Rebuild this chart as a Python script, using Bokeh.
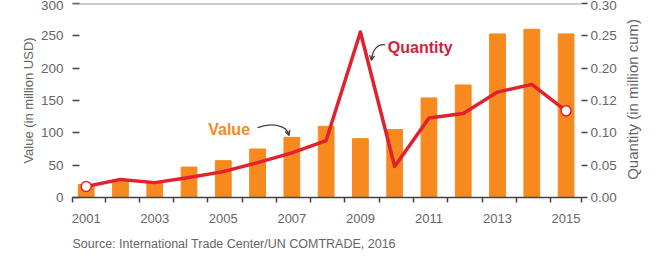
import math
from bokeh.plotting import figure
from bokeh.layouts import row
from bokeh.models import (FixedTicker, LinearAxis, Range1d, Span, Label, Title,
                          Arrow, OpenHead, NumeralTickFormatter)
from bokeh.embed import file_html
from bokeh.resources import INLINE

years = list(range(2001, 2016))
value_musd = [20, 28, 23, 47, 57, 75, 93, 110, 91, 105, 154, 174, 253, 260, 253]
quantity_mcum = [0.017, 0.028, 0.023, 0.031, 0.040, 0.054, 0.069, 0.088, 0.256,
                 0.048, 0.123, 0.130, 0.163, 0.175, 0.134]
left_ticks = [0, 50, 100, 150, 200, 250, 300]
right_ticks = [0.0, 0.05, 0.10, 0.15, 0.20, 0.25, 0.30]
right_overrides = {0.15: "0.12"}
x_label_years = [2001, 2003, 2005, 2007, 2009, 2011, 2013, 2015]
left_title = "Value (in million USD)"
right_title = "Quantity (in million cum)"
source_text = "Source: International Trade Center/UN COMTRADE, 2016"

FONT = "Liberation Sans"
GRAY = "#666666"
ORANGE = "#F7891F"
RED = "#E2202E"
DARK = "#444444"
H = 259

p = figure(width=620, height=H, output_backend="svg", toolbar_location=None,
           x_range=Range1d(2000.6, 2015.45), y_range=Range1d(0, 300),
           min_border_left=72, min_border_right=39, min_border_top=3,
           min_border_bottom=61)
p.outline_line_color = None
p.xgrid.visible = False
p.ygrid.visible = False

# bars
p.vbar(x=years, top=value_musd, width=0.46, color=ORANGE)

# quantity line on right range
p.extra_y_ranges = {"q": Range1d(0, 0.30)}
p.line(years, quantity_mcum, y_range_name="q", line_color=RED, line_width=3.5,
       line_join="round")
p.scatter([years[0], years[-1]], [quantity_mcum[0], quantity_mcum[-1]],
          y_range_name="q", size=10, fill_color="white", line_color=RED,
          line_width=1.5)

# top line
p.add_layout(Span(location=300, dimension="width", line_color="#999999",
                  line_width=2))

# x axis
xa = p.xaxis[0]
minor = [2000.6] + [y + 0.55 for y in range(2001, 2015)] + [2015.45]
xa.ticker = FixedTicker(ticks=x_label_years, minor_ticks=minor)
xa.major_tick_out = 0
xa.major_tick_in = 0
xa.minor_tick_out = 5
xa.minor_tick_in = 0
xa.minor_tick_line_color = DARK
xa.minor_tick_line_width = 1.5
xa.axis_line_color = DARK
xa.axis_line_width = 1.5
xa.major_label_text_font = FONT
xa.major_label_text_font_size = "13px"
xa.major_label_text_color = GRAY
xa.major_label_standoff = 11

# left axis
ya = p.yaxis[0]
ya.ticker = FixedTicker(ticks=left_ticks)
ya.axis_line_color = None
ya.major_tick_in = 7
ya.major_tick_out = 0
ya.minor_tick_line_color = None
ya.major_tick_line_color = DARK
ya.major_tick_line_width = 1.5
ya.major_label_text_font = FONT
ya.major_label_text_font_size = "13.5px"
ya.major_label_text_color = GRAY
ya.major_label_standoff = 9
ya.axis_label = left_title
ya.axis_label_text_font = FONT
ya.axis_label_text_font_size = "13px"
ya.axis_label_text_font_style = "normal"
ya.axis_label_text_color = GRAY
ya.axis_label_standoff = 2

ra = LinearAxis(y_range_name="q", ticker=FixedTicker(ticks=right_ticks),
                formatter=NumeralTickFormatter(format="0.00"),
                major_label_overrides=right_overrides)
ra.axis_line_color = None
ra.major_tick_in = 0
ra.major_tick_out = 6
ra.minor_tick_line_color = None
ra.major_tick_line_color = DARK
ra.major_tick_line_width = 1.5
ra.major_label_text_font = FONT
ra.major_label_text_font_size = "13.5px"
ra.major_label_text_color = GRAY
ra.major_label_standoff = 3
p.add_layout(ra, "right")

# annotations
p.add_layout(Label(x=2004.56, y=105, text="Value", text_font=FONT,
                   text_font_size="16px", text_font_style="bold",
                   text_color=ORANGE, text_baseline="middle"))
p.bezier(x0=[2006.0], y0=[108], x1=[2006.9], y1=[98],
         cx0=[2006.4], cy0=[116], cx1=[2006.85], cy1=[112],
         line_color=DARK, line_width=1.3)
p.add_layout(Arrow(x_start=2006.88, y_start=102, x_end=2006.92, y_end=96,
                   end=OpenHead(size=5, line_color=DARK, line_width=1.3),
                   line_color=DARK, line_width=1.3))

p.add_layout(Label(x=2009.8, y=232, text="Quantity", text_font=FONT,
                   text_font_size="16px", text_font_style="bold",
                   text_color="#D41F3A", text_baseline="middle"))
p.bezier(x0=[2009.72], y0=[236], x1=[2009.33], y1=[214],
         cx0=[2009.5], cy0=[238], cx1=[2009.35], cy1=[228],
         line_color=DARK, line_width=1.3)
p.add_layout(Arrow(x_start=2009.34, y_start=219, x_end=2009.32, y_end=212,
                   end=OpenHead(size=5, line_color=DARK, line_width=1.3),
                   line_color=DARK, line_width=1.3))

# source
p.add_layout(Title(text=source_text, align="left", text_font=FONT,
                   text_font_size="12.5px", text_font_style="normal",
                   text_color=GRAY, standoff=18), "below")

# narrow side panel holding the right axis title (reads bottom-to-top)
s = figure(width=24, height=H, output_backend="svg", toolbar_location=None,
           x_range=Range1d(0, 1), y_range=Range1d(0, H),
           min_border_left=0, min_border_right=0, min_border_top=0,
           min_border_bottom=0)
s.axis.visible = False
s.grid.visible = False
s.outline_line_color = None
s.add_layout(Label(x=0.5, y=H - 128, text=right_title, angle=math.pi / 2,
                   text_align="center", text_baseline="middle",
                   text_font=FONT, text_font_size="15px", text_color=GRAY))

layout = row(p, s, spacing=0)
open("out.html", "w").write(file_html(layout, INLINE))
